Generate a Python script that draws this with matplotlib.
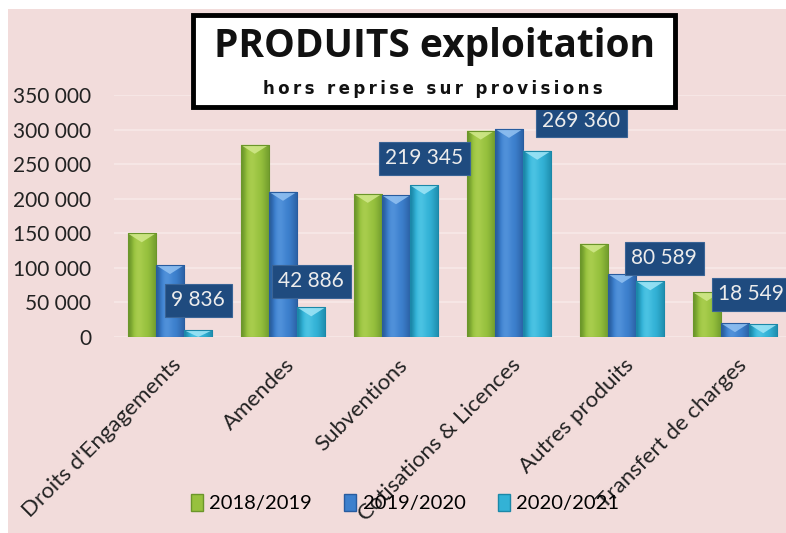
import numpy as np
import matplotlib.pyplot as plt
from matplotlib.patches import Rectangle, Polygon, Patch
from matplotlib.colors import LinearSegmentedColormap
from matplotlib.ticker import FuncFormatter
import matplotlib.transforms as mtransforms

plt.rcParams['font.family'] = ['Lato', 'DejaVu Sans']

categories = ["Droits d'Engagements", "Amendes", "Subventions",
              "Cotisations & Licences", "Autres produits", "Transfert de charges"]
seasons = ["2018/2019", "2019/2020", "2020/2021"]
v_2018_2019 = [150000, 278000, 207000, 298500, 135000, 65000]
v_2019_2020 = [104000, 210000, 205000, 301000, 91000, 20000]
v_2020_2021 = [9836, 42886, 219345, 269360, 80589, 18549]
y_ticks = [0, 50000, 100000, 150000, 200000, 250000, 300000, 350000]

# (dark, light, mid, bevel)
series_colors = [
    ('#6B962A', '#B2D456', '#97C13E', '#D2E98C'),
    ('#285C9F', '#5B9BE2', '#3D80CD', '#93C2F2'),
    ('#1B88A8', '#58CCEA', '#33B2D6', '#A0E6F7'),
]
# manual nudges of the value boxes (pixels), like in the original sheet
label_dx = [0, 0, 0, 44, 14, -12]
label_dy = [30, 26, 27, 30, 23, 30]

bg = '#F2DCDB'
W, H = 786, 533
fig = plt.figure(figsize=(W / 100, H / 100), dpi=100)
fig.patch.set_facecolor('white')
fig.add_artist(Rectangle((8 / W, 0), 1, 1 - 9 / H, transform=fig.transFigure,
                         facecolor=bg, edgecolor='none', zorder=-10))

ax = fig.add_axes([113.5 / W, 1 - 337 / H, 678 / W, 242 / H])
ax.set_facecolor('none')
for s in ax.spines.values():
    s.set_visible(False)

x = np.arange(len(categories))
bw = 0.25
all_vals = [v_2018_2019, v_2019_2020, v_2020_2021]
ymax = 350000
bevel_h = 9 / (242) * ymax

grad = np.array([0.0, 0.35, 0.75, 0.85, 0.7, 0.55, 0.45, 0.3, 0.1])
for k, vals in enumerate(all_vals):
    dark, light, mid, bev = series_colors[k]
    cmap = LinearSegmentedColormap.from_list('g%d' % k, [dark, mid, light])
    bars = ax.bar(x + (k - 1) * bw, vals, bw, color=mid, edgecolor='none', zorder=2)
    for r in bars:
        x0, w, h = r.get_x(), r.get_width(), r.get_height()
        im = ax.imshow(grad[np.newaxis, :], extent=[x0, x0 + w, 0, h], aspect='auto',
                       cmap=cmap, vmin=0, vmax=1, zorder=2, interpolation='bicubic')
        im.set_clip_path(r)
        bh = min(bevel_h, h)
        ax.add_patch(Polygon([(x0, h), (x0 + w, h), (x0 + w / 2, h - bh)],
                             closed=True, facecolor=bev, edgecolor='none', alpha=0.85, zorder=3))
        ax.add_patch(Rectangle((x0, 0), w, h, facecolor='none', edgecolor=dark,
                               linewidth=0.8, zorder=3))

# value labels for the last season
for i, v in enumerate(v_2020_2021):
    ax.annotate(f"{v:,}".replace(",", " "), xy=(x[i] + bw, v),
                xytext=(label_dx[i] * 0.72, label_dy[i] * 0.72), textcoords='offset points',
                ha='center', va='center', color='#ECECEC', fontsize=15, zorder=6,
                bbox=dict(boxstyle='square,pad=0.32', fc='#1F4B7F', ec='#3A6496', lw=0.8))

ax.set_xlim(-0.5, len(categories) - 0.5)
ax.set_ylim(0, ymax)
ax.set_yticks(y_ticks)
ax.yaxis.set_major_formatter(FuncFormatter(lambda v, p: f"{int(v):,}".replace(",", " ")))
ax.grid(axis='y', color='#F7E9E8', linewidth=1.2, zorder=0)
ax.set_axisbelow(True)
ax.tick_params(axis='y', length=0, pad=16, labelsize=15, labelcolor='#222222')
ax.tick_params(axis='x', length=0, pad=13, labelsize=16, labelcolor='#222222')
ax.set_xticks(x)
ax.set_xticklabels(categories, rotation=45, ha='right', rotation_mode='anchor')
shift = mtransforms.ScaledTranslation(1 / 72, 0, fig.dpi_scale_trans)
for lab in ax.get_xticklabels():
    lab.set_transform(lab.get_transform() + shift)

handles = [Patch(facecolor=c[2], edgecolor=c[0]) for c in series_colors]
fig.legend(handles, seasons, loc='center', bbox_to_anchor=(405 / W, 1 - 503 / H),
           ncol=3, frameon=False, fontsize=14.5, handlelength=0.6, handleheight=0.9,
           handletextpad=0.3, columnspacing=1.6)

# title box
fig.add_artist(Rectangle((196 / W, 1 - 110 / H), 482 / W, 92 / H, transform=fig.transFigure,
                         facecolor='#9A8A8A', edgecolor='none', alpha=0.4, zorder=4))
fig.add_artist(Rectangle((193 / W, 1 - 107 / H), 482 / W, 92 / H, transform=fig.transFigure,
                         facecolor='white', edgecolor='black', linewidth=3.5, zorder=5))
fig.text(434 / W, 1 - 46 / H, "PRODUITS exploitation", ha='center', va='center',
         fontsize=28, fontweight='bold', color='#111111', zorder=6,
         family=['Open Sans', 'DejaVu Sans'])
subtitle = "hors reprise sur provisions"
fig.text(433 / W, 1 - 89 / H, "\u2009".join(subtitle), ha='center', va='center',
         fontsize=12, fontweight='bold', color='#111111', zorder=6,
         family=['DejaVu Sans'])

fig.savefig('out.png', dpi=100, facecolor='white')
